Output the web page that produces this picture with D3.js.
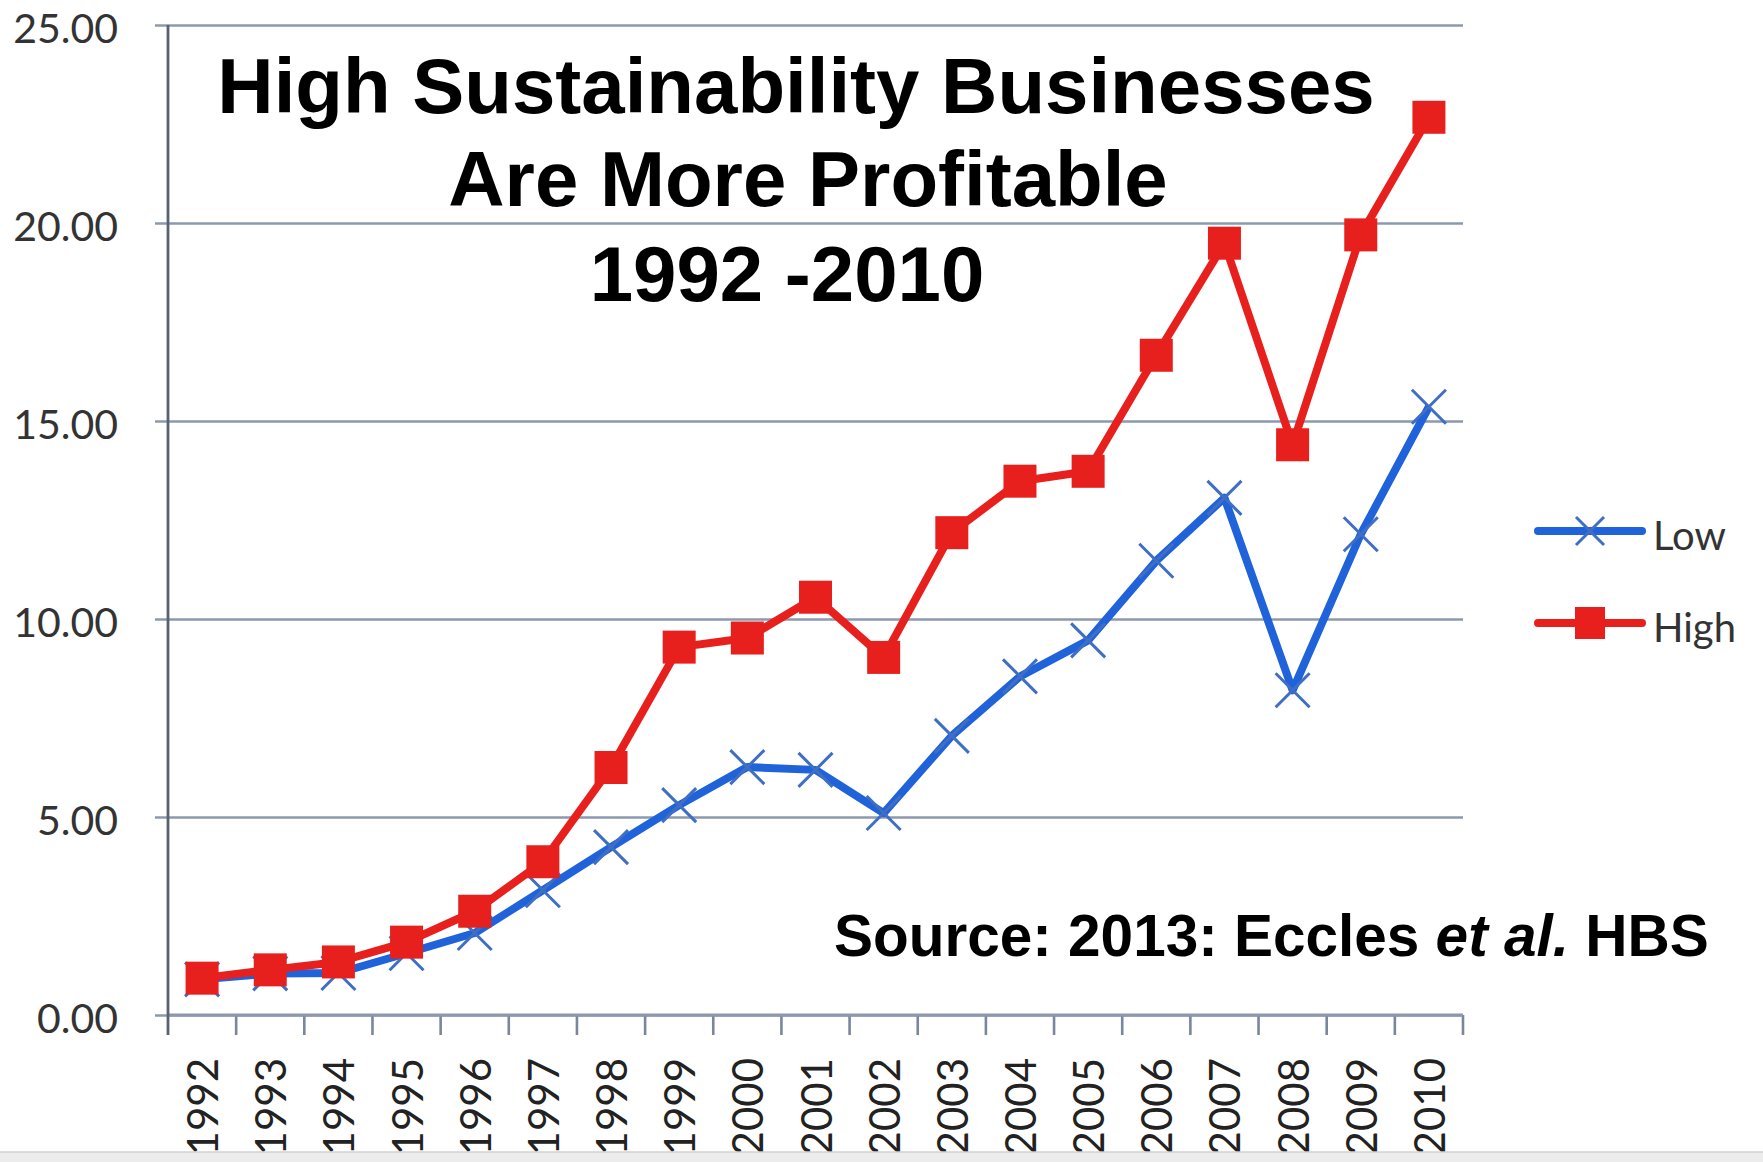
<!DOCTYPE html>
<html>
<head>
<meta charset="utf-8">
<script src="https://cdn.jsdelivr.net/npm/d3@7"></script>
<style>
  html, body { margin: 0; padding: 0; background: #ffffff; }
  svg { display: block; }
</style>
</head>
<body>
<svg id="chart" width="1763" height="1162"></svg>
<script>
// ---------------- DATA ----------------
const years = ["1992","1993","1994","1995","1996","1997","1998","1999","2000","2001",
               "2002","2003","2004","2005","2006","2007","2008","2009","2010"];
const lowValues  = [0.90, 1.05, 1.06, 1.56, 2.07, 3.15, 4.24, 5.30, 6.26, 6.19,
                    5.10, 7.05, 8.55, 9.46, 11.47, 13.06, 8.20, 12.14, 15.36];
const highValues = [0.93, 1.14, 1.34, 1.84, 2.62, 3.87, 6.25, 9.29, 9.52, 10.55,
                    9.03, 12.18, 13.48, 13.73, 16.66, 19.49, 14.40, 19.70, 22.67];
const yTicks = [0, 5, 10, 15, 20, 25];
const seriesNames = ["Low", "High"];
const titleLines = ["High Sustainability Businesses", "Are More Profitable", "1992 -2010"];
const sourceParts = [
  {text: "Source: 2013: Eccles ", italic: false},
  {text: "et al.", italic: true},
  {text: " HBS", italic: false}
];

// ---------------- LAYOUT ----------------
const svg = d3.select("#chart");
const W = 1763, H = 1162;
const plotLeft = 168, plotRight = 1463, plotTop = 25, plotBottom = 1015;
const blue = "#1f62d9", blueMarker = "#3f6fc4", red = "#e8201d";
const gridColor = "#8c98ae", axisColor = "#5a6172", labelColor = "#333333";
const labelFont = "Lato, 'Open Sans', 'DejaVu Sans', sans-serif";
const titleFont = "'Liberation Sans', Arial, sans-serif";

svg.append("rect").attr("width", W).attr("height", H).attr("fill", "#ffffff");

const x = d3.scaleBand().domain(years).range([plotLeft, plotRight]).padding(0);
const y = d3.scaleLinear().domain([0, 25]).range([plotBottom, plotTop]);
const cx = d => x(d) + x.bandwidth() / 2;

// Y axis with gridlines (drawn from the right edge so ticks stick out past the y-axis)
const yAxis = d3.axisLeft(y)
  .tickValues(yTicks)
  .tickFormat(d3.format(".2f"))
  .tickSizeInner(plotRight - plotLeft + 13)
  .tickSizeOuter(0)
  .tickPadding(37);
const gy = svg.append("g").attr("transform", `translate(${plotRight},0)`).call(yAxis);
gy.select(".domain").remove();
gy.selectAll(".tick line").attr("stroke", gridColor).attr("stroke-width", 2.6);
gy.selectAll(".tick text")
  .attr("fill", labelColor)
  .attr("dy", "0.42em")
  .style("font-family", labelFont)
  .style("font-size", "41px");

// X axis: ticks at band boundaries
const boundaries = years.map(d => x(d)).concat([plotRight]);
svg.append("g").selectAll("line").data(boundaries.slice(1)).join("line")
  .attr("x1", d => d).attr("x2", d => d)
  .attr("y1", plotBottom).attr("y2", plotBottom + 20)
  .attr("stroke", "#7a869c").attr("stroke-width", 2.6);
svg.append("line")
  .attr("x1", plotLeft).attr("x2", plotRight)
  .attr("y1", plotBottom).attr("y2", plotBottom)
  .attr("stroke", gridColor).attr("stroke-width", 2.8);
// vertical y axis line
svg.append("line")
  .attr("x1", plotLeft).attr("x2", plotLeft)
  .attr("y1", y(25)).attr("y2", plotBottom + 20)
  .attr("stroke", axisColor).attr("stroke-width", 2.8);

// X labels, rotated
svg.append("g").selectAll("text").data(years).join("text")
  .attr("transform", d => `translate(${cx(d)},${plotBottom + 43}) rotate(-90)`)
  .attr("text-anchor", "end")
  .attr("dominant-baseline", "central")
  .attr("fill", "#222222")
  .style("font-family", labelFont)
  .style("font-size", "42px")
  .text(d => d);

// ---------------- SERIES ----------------
const lowData = years.map((yr, i) => ({year: yr, v: lowValues[i]}));
const highData = years.map((yr, i) => ({year: yr, v: highValues[i]}));
const line = d3.line().x(d => cx(d.year)).y(d => y(d.v));

const xs = 17;
const xPath = `M${-xs},${-xs}L${xs},${xs}M${-xs},${xs}L${xs},${-xs}`;
const sq = 33;

// Low
svg.append("path").datum(lowData)
  .attr("d", line).attr("fill", "none")
  .attr("stroke", blue).attr("stroke-width", 8).attr("stroke-linejoin", "round");
svg.append("g").selectAll("path").data(lowData).join("path")
  .attr("transform", d => `translate(${cx(d.year)},${y(d.v)})`)
  .attr("d", xPath).attr("fill", "none")
  .attr("stroke", blueMarker).attr("stroke-width", 3);

// High
svg.append("path").datum(highData)
  .attr("d", line).attr("fill", "none")
  .attr("stroke", red).attr("stroke-width", 8).attr("stroke-linejoin", "round");
svg.append("g").selectAll("rect").data(highData).join("rect")
  .attr("x", d => cx(d.year) - sq / 2).attr("y", d => y(d.v) - sq / 2)
  .attr("width", sq).attr("height", sq)
  .attr("fill", red);

// ---------------- LEGEND ----------------
const legendRows = [
  {name: seriesNames[0], color: blue, cyPos: 531},
  {name: seriesNames[1], color: red, cyPos: 623}
];
const lg = svg.append("g");
legendRows.forEach((r, i) => {
  lg.append("line")
    .attr("x1", 1538).attr("x2", 1642).attr("y1", r.cyPos).attr("y2", r.cyPos)
    .attr("stroke", r.color).attr("stroke-width", 8).attr("stroke-linecap", "round");
  if (i === 0) {
    lg.append("path").attr("transform", `translate(1590,${r.cyPos})`)
      .attr("d", `M-14,-14L14,14M-14,14L14,-14`).attr("fill", "none")
      .attr("stroke", blueMarker).attr("stroke-width", 3);
  } else {
    lg.append("rect").attr("x", 1575).attr("y", r.cyPos - 16)
      .attr("width", 30).attr("height", 32).attr("fill", red);
  }
  lg.append("text")
    .attr("x", 1653).attr("y", r.cyPos + 19)
    .attr("fill", labelColor)
    .style("font-family", labelFont)
    .style("font-size", "40px")
    .text(r.name);
});

// ---------------- TITLE ----------------
const titlePos = [{x: 796, y: 113}, {x: 808, y: 206}, {x: 787, y: 301}];
svg.append("g").selectAll("text").data(titleLines).join("text")
  .attr("x", (d, i) => titlePos[i].x)
  .attr("y", (d, i) => titlePos[i].y)
  .attr("text-anchor", "middle")
  .attr("fill", "#000000")
  .style("font-family", titleFont)
  .style("font-weight", "bold")
  .style("font-size", "78px")
  .text(d => d);

// ---------------- SOURCE ----------------
const src = svg.append("text")
  .attr("x", 834).attr("y", 956)
  .attr("fill", "#000000")
  .style("font-family", titleFont)
  .style("font-weight", "bold")
  .style("font-size", "58.5px");
src.selectAll("tspan").data(sourceParts).join("tspan")
  .style("font-style", d => d.italic ? "italic" : "normal")
  .text(d => d.text);

// bottom edge strip
svg.append("rect").attr("x", 0).attr("y", 1152).attr("width", W).attr("height", 10).attr("fill", "#ececec");
svg.append("line").attr("x1", 0).attr("x2", W).attr("y1", 1152).attr("y2", 1152)
  .attr("stroke", "#d2d2d2").attr("stroke-width", 1.5);
</script>
</body>
</html>
